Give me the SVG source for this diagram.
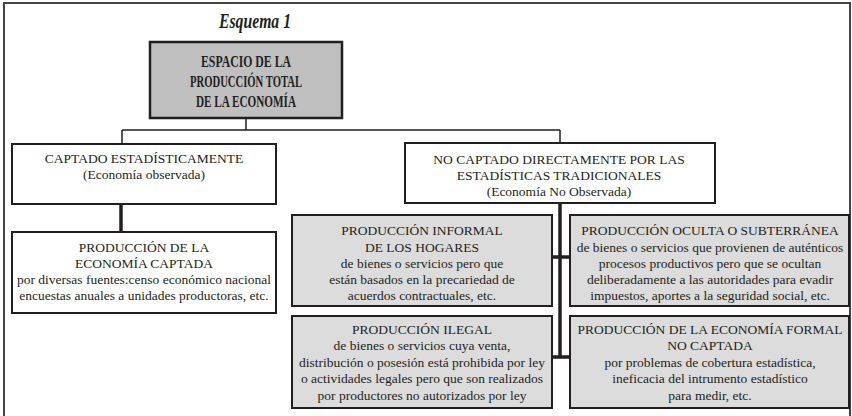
<svg xmlns="http://www.w3.org/2000/svg" width="852" height="416" viewBox="0 0 852 416">
<style>
.t{font-size:13.5px}
.b{font-size:17px;font-weight:bold}
.box{fill:#ffffff;stroke:#231f20;stroke-width:2}
.gray{fill:#dcdcdc;stroke:#231f20;stroke-width:2}
.top{fill:#c0c0c0;stroke:#231f20;stroke-width:2.5}
.thin{fill:none;stroke:#231f20;stroke-width:1.5}
.thick{fill:none;stroke:#231f20;stroke-width:3.5}
</style>
<rect x="0" y="0" width="852" height="416" fill="#ffffff"/>
<rect id="frame" x="4" y="3" width="846" height="430" fill="none" stroke="#444" stroke-width="2"/>
<g font-family="'Liberation Serif', 'Times New Roman', serif" fill="#231f20" text-anchor="middle">
<text id="title" x="255" y="28" font-size="22" font-weight="bold" font-style="italic" textLength="72" lengthAdjust="spacingAndGlyphs">Esquema 1</text>

<g id="connectors">
<path class="thin" d="M246,118 V130 M122,130 H560 M122,130 V144 M560,130 V143"/>
<path class="thick" d="M121,204 V232"/>
<path class="thick" d="M560,203 V358 M552,257 H570 M552,357 H570"/>
</g>

<g id="n_total">
<rect class="top" x="150" y="42" width="192" height="76"/>
<text class="b" x="246" y="67" textLength="90" lengthAdjust="spacingAndGlyphs">ESPACIO DE LA</text>
<text class="b" x="246" y="87" textLength="112" lengthAdjust="spacingAndGlyphs">PRODUCCIÓN TOTAL</text>
<text class="b" x="246" y="107" textLength="100" lengthAdjust="spacingAndGlyphs">DE LA ECONOMÍA</text>
</g>

<g id="n_captado">
<rect class="box" x="12" y="144" width="264" height="60"/>
<text class="t" x="144" y="163">CAPTADO ESTADÍSTICAMENTE</text>
<text class="t" x="144" y="179">(Economía observada)</text>
</g>

<g id="n_produccion_captada">
<rect class="box" x="12" y="232" width="264" height="81"/>
<text class="t" x="144" y="252">PRODUCCIÓN DE LA</text>
<text class="t" x="144" y="268">ECONOMÍA CAPTADA</text>
<text class="t" x="144" y="284">por diversas fuentes:censo económico nacional</text>
<text class="t" x="144" y="300">encuestas anuales a unidades productoras, etc.</text>
</g>

<g id="n_no_captado">
<rect class="box" x="405" y="143" width="310" height="60"/>
<text class="t" x="559" y="164">NO CAPTADO DIRECTAMENTE POR LAS</text>
<text class="t" x="559" y="180">ESTADÍSTICAS TRADICIONALES</text>
<text class="t" x="559" y="196">(Economía No Observada)</text>
</g>

<g id="n_informal">
<rect class="gray" x="292" y="215" width="260" height="91"/>
<text class="t" x="422" y="235">PRODUCCIÓN INFORMAL</text>
<text class="t" x="422" y="252">DE LOS HOGARES</text>
<text class="t" x="422" y="268">de bienes o servicios pero que</text>
<text class="t" x="422" y="284">están basados en la precariedad de</text>
<text class="t" x="422" y="300">acuerdos contractuales, etc.</text>
</g>

<g id="n_oculta">
<rect class="gray" x="570" y="215" width="279" height="91"/>
<text class="t" x="710" y="235">PRODUCCIÓN OCULTA O SUBTERRÁNEA</text>
<text class="t" x="710" y="252">de bienes o servicios que provienen de auténticos</text>
<text class="t" x="710" y="268">procesos productivos pero que se ocultan</text>
<text class="t" x="710" y="284">deliberadamente a las autoridades para evadir</text>
<text class="t" x="710" y="300">impuestos, aportes a la seguridad social, etc.</text>
</g>

<g id="n_ilegal">
<rect class="gray" x="292" y="316" width="260" height="92"/>
<text class="t" x="422" y="334">PRODUCCIÓN ILEGAL</text>
<text class="t" x="422" y="350">de bienes o servicios cuya venta,</text>
<text class="t" x="422" y="367">distribución o posesión está prohibida por ley</text>
<text class="t" x="422" y="383">o actividades legales pero que son realizados</text>
<text class="t" x="422" y="400">por productores no autorizados por ley</text>
</g>

<g id="n_formal">
<rect class="gray" x="570" y="316" width="279" height="92"/>
<text class="t" x="710" y="334">PRODUCCIÓN DE LA ECONOMÍA FORMAL</text>
<text class="t" x="710" y="350">NO CAPTADA</text>
<text class="t" x="710" y="367">por problemas de cobertura estadística,</text>
<text class="t" x="710" y="383">ineficacia del intrumento estadístico</text>
<text class="t" x="710" y="400">para medir, etc.</text>
</g>
</g>
</svg>
